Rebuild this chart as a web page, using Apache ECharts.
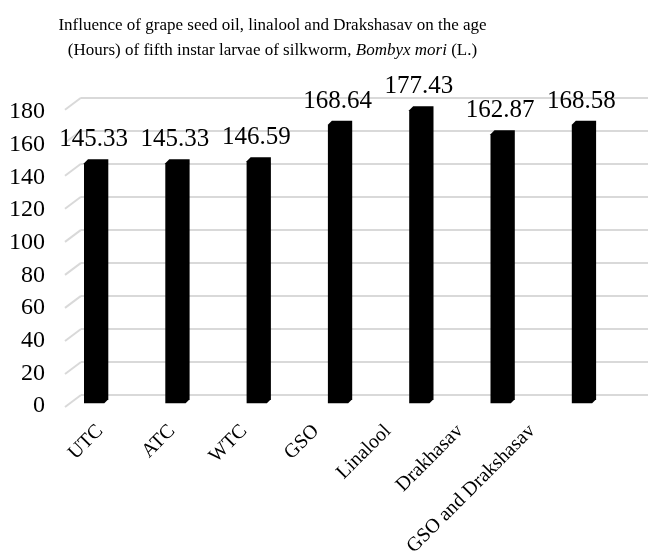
<!DOCTYPE html>
<html>
<head>
<meta charset="utf-8">
<script src="https://cdn.jsdelivr.net/npm/echarts@6/dist/echarts.min.js"></script>
<style>
  html, body { margin: 0; padding: 0; background: #ffffff; }
  #chart { width: 648px; height: 559px; }
</style>
</head>
<body>
<div id="chart"></div>
<script>
// Treatments and the age (hours) of fifth instar larvae
const categories = ['UTC', 'ATC', 'WTC', 'GSO', 'Linalool', 'Drakhasav', 'GSO and Drakshasav'];
const larvalAge = [145.33, 145.33, 146.59, 168.64, 177.43, 162.87, 168.58];
const yTicks = [0, 20, 40, 60, 80, 100, 120, 140, 160, 180];

const SERIF = '"Liberation Serif", "Times New Roman", serif';
const GRID_COLOR = '#d9d9d9';
const DEPTH = 4;          // offset of a column's back face (px)
const FRONT_W = 20.3;     // width of a column's front face (px)
const STUB = [16, 12];    // side-wall run of each gridline (px)

const chart = echarts.init(document.getElementById('chart'), null, { renderer: 'canvas' });

const option = {
  animation: false,
  backgroundColor: '#ffffff',
  graphic: [{
    type: 'text',
    x: 272.5,
    y: 13,
    style: {
      text: 'Influence of grape seed oil, linalool and Drakshasav on the age\n(Hours) of fifth instar larvae of silkworm, {i|Bombyx mori} (L.)',
      font: '17px ' + SERIF,
      fill: '#000000',
      align: 'center',
      lineHeight: 25,
      rich: { i: { fontStyle: 'italic', fontFamily: SERIF, fontSize: 17, fill: '#000000', lineHeight: 25 } }
    }
  }],
  grid: [
    // back wall: gridlines
    { left: 81, right: 0, top: 97.7, height: 297.3 },
    // columns (front faces)
    { left: 55.5, width: 569.1, top: 106, height: 297.3 },
    // front edge of the floor: axis labels
    { left: 64, width: 504, top: 112, height: 294.7 }
  ],
  xAxis: [
    { gridIndex: 0, type: 'value', min: 0, max: 1, show: false },
    { gridIndex: 1, type: 'category', data: categories, show: false },
    {
      gridIndex: 2, type: 'category', data: categories,
      axisLine: { show: false }, axisTick: { show: false }, splitLine: { show: false },
      axisLabel: { rotate: 45, margin: 22, interval: 0, color: '#000', fontFamily: SERIF, fontSize: 20 }
    }
  ],
  yAxis: [
    {
      gridIndex: 0, type: 'value', min: 0, max: 180, interval: 20,
      axisLine: { show: false }, axisTick: { show: false }, axisLabel: { show: false },
      splitLine: { lineStyle: { color: GRID_COLOR, width: 2 } }
    },
    { gridIndex: 1, type: 'value', min: 0, max: 180, interval: 20, show: false },
    {
      gridIndex: 2, type: 'value', min: 0, max: 180, interval: 20,
      axisLine: { show: false }, axisTick: { show: false }, splitLine: { show: false },
      axisLabel: { margin: 19, color: '#000', fontFamily: SERIF, fontSize: 24 }
    }
  ],
  series: [
    {
      // side-wall segments of the gridlines
      type: 'custom',
      xAxisIndex: 0, yAxisIndex: 0,
      silent: true,
      data: yTicks.map(v => [0, v]),
      renderItem: function (params, api) {
        const p = api.coord([api.value(0), api.value(1)]);
        return {
          type: 'line',
          shape: { x1: p[0] - STUB[0], y1: p[1] + STUB[1], x2: p[0], y2: p[1] },
          style: { stroke: GRID_COLOR, lineWidth: 2 }
        };
      }
    },
    {
      // columns with their value labels
      type: 'custom',
      xAxisIndex: 1, yAxisIndex: 1,
      data: larvalAge.map((v, i) => [i, v]),
      renderItem: function (params, api) {
        const v = api.value(1);
        const top = api.coord([api.value(0), v]);
        const base = api.coord([api.value(0), 0]);
        const cx = top[0];
        const x0 = cx - (FRONT_W + DEPTH) / 2;
        const x1 = x0 + FRONT_W;
        const d = DEPTH;
        return {
          type: 'group',
          children: [
            {
              type: 'polygon',
              shape: {
                points: [
                  [x0, base[1]], [x1, base[1]], [x1 + d, base[1] - d],
                  [x1 + d, top[1] - d], [x0 + d, top[1] - d], [x0, top[1]]
                ]
              },
              style: { fill: '#000000' }
            },
            {
              type: 'text',
              x: cx - 2.5,
              y: top[1] - d - 7,
              style: {
                text: v.toFixed(2),
                font: '25px ' + SERIF,
                fill: '#000000',
                align: 'center',
                verticalAlign: 'bottom'
              }
            }
          ]
        };
      }
    }
  ]
};

chart.setOption(option);
</script>
</body>
</html>
